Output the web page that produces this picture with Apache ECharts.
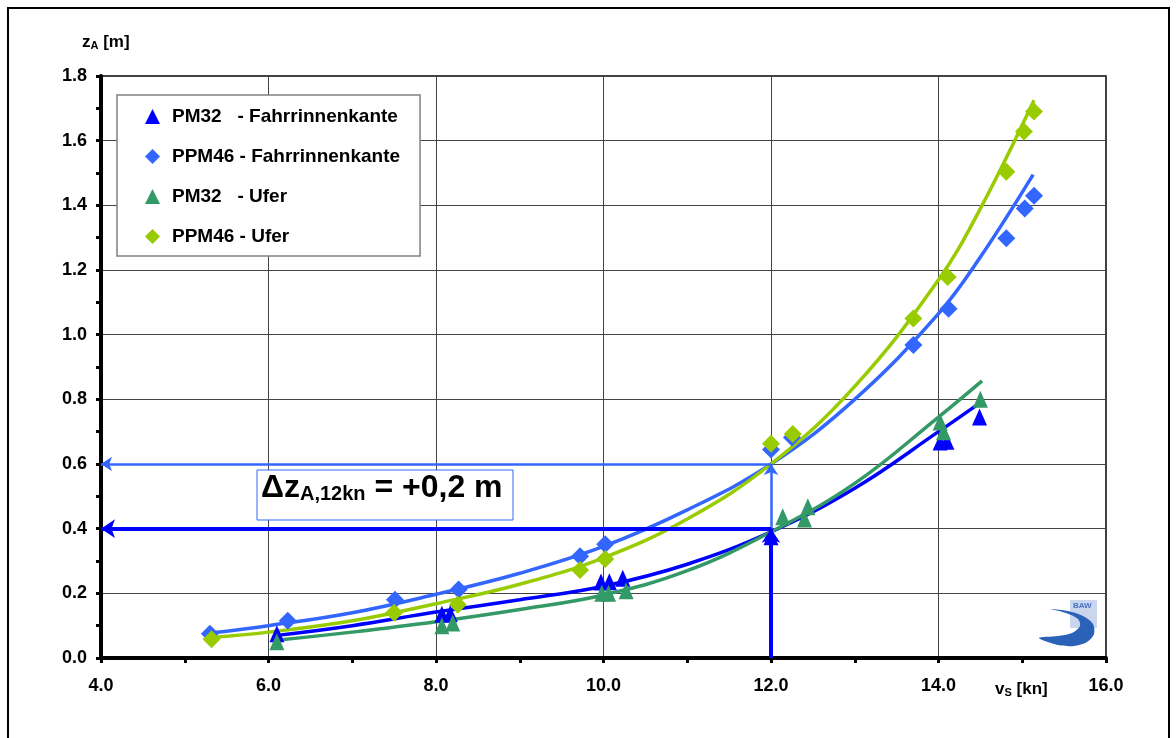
<!DOCTYPE html>
<html>
<head>
<meta charset="utf-8">
<script src="https://cdn.jsdelivr.net/npm/echarts@6/dist/echarts.min.js"></script>
<style>
  html, body { margin: 0; padding: 0; background: #fff; }
  #chart { width: 1176px; height: 738px; }
</style>
</head>
<body>
<div id="chart"></div>
<script>
// Messpunkte [v_S in kn, z_A in m]
const pm32Rinne = [[6.1, 0.075], [8.07, 0.135], [8.17, 0.137], [9.97, 0.235], [10.07, 0.236], [10.23, 0.247], [12.0, 0.375], [14.02, 0.668], [14.1, 0.67], [14.49, 0.745]]
const ppm46Rinne = [[5.3, 0.075], [6.23, 0.115], [7.51, 0.18], [8.27, 0.212], [9.72, 0.315], [10.02, 0.352], [12.0, 0.645], [12.25, 0.682], [13.7, 0.968], [14.12, 1.08], [14.81, 1.298], [15.03, 1.39], [15.14, 1.43]]
const pm32Ufer = [[6.1, 0.05], [8.07, 0.1], [8.2, 0.108], [9.98, 0.2], [10.06, 0.2], [10.27, 0.208], [12.14, 0.437], [12.4, 0.43], [12.44, 0.468], [14.02, 0.73], [14.06, 0.70], [14.5, 0.80]]
const ppm46Ufer = [[5.32, 0.058], [7.5, 0.14], [8.26, 0.165], [9.72, 0.272], [10.02, 0.306], [12.0, 0.663], [12.26, 0.693], [13.7, 1.05], [14.11, 1.178], [14.81, 1.504], [15.02, 1.628], [15.14, 1.69]]

const fitPm32Rinne = [[6.1, 0.07], [7, 0.1], [8, 0.142], [9, 0.18], [10, 0.222], [11, 0.29], [12, 0.39], [13, 0.525], [14, 0.70], [14.5, 0.79]]
const fitPpm46Rinne = [[5.3, 0.077], [6, 0.1], [7, 0.14], [8, 0.197], [9, 0.262], [10, 0.345], [11, 0.458], [12, 0.6], [13, 0.8], [14, 1.065], [14.5, 1.24], [15.13, 1.495]]
const fitPm32Ufer = [[6.1, 0.055], [7, 0.08], [8, 0.112], [9, 0.15], [10, 0.195], [11, 0.27], [12, 0.39], [13, 0.54], [14, 0.745], [14.52, 0.857]]
const fitPpm46Ufer = [[5.3, 0.063], [6, 0.08], [7, 0.115], [8, 0.168], [9, 0.228], [10, 0.31], [11, 0.43], [12, 0.6], [13, 0.84], [14, 1.17], [14.5, 1.39], [15.14, 1.725]]

// Ablesepfeile bei 12 kn
const arrowLightLeft = [[12, 0.6], [4, 0.6]]
const arrowLightUp = [[12, 0.4], [12, 0.6]]
const arrowDarkLeft = [[12, 0.4], [4, 0.4]]
const arrowDarkUp = [[12, 0.0], [12, 0.4]]

const legendNames = ['PM32   - Fahrrinnenkante', 'PPM46 - Fahrrinnenkante', 'PM32   - Ufer', 'PPM46 - Ufer']
const annotation = ['\u0394z', 'A,12kn', ' = +0,2 m']

const C_DARK = '#0000ff'
const C_LIGHT = '#3366ff'
const C_GREEN = '#339966'
const C_YELLOW = '#99cc00'
const FONT = 'Liberation Sans, Arial, sans-serif'

const chart = echarts.init(document.getElementById('chart'))

function fitLine(data, color) {
  return {
    type: 'line',
    data: data,
    smooth: 0.4,
    showSymbol: false,
    symbol: 'none',
    silent: true,
    lineStyle: { color: color, width: 3.5 },
    z: 2
  }
}

function arrow(data, color, width, size) {
  return {
    type: 'lines',
    coordinateSystem: 'cartesian2d',
    symbol: ['none', 'arrow'],
    symbolSize: size,
    silent: true,
    lineStyle: { color: color, width: width, opacity: 1 },
    data: [{ coords: data }],
    z: 4
  }
}

function points(name, data, color, symbol, size) {
  return {
    name: name,
    type: 'scatter',
    data: data,
    symbol: symbol,
    symbolSize: size,
    itemStyle: { color: color, opacity: 1 },
    z: 3
  }
}

const option = {
  animation: false,
  textStyle: { fontFamily: FONT },
  grid: {
    left: 101, right: 70, top: 76, bottom: 80,
    show: true, borderColor: '#000', borderWidth: 1.5
  },
  legend: {
    data: legendNames,
    orient: 'vertical',
    left: 117, top: 95,
    padding: [12, 20, 10, 28],
    itemWidth: 15, itemHeight: 15, itemGap: 21,
    backgroundColor: '#fff',
    borderColor: '#808080',
    borderWidth: 1.5,
    borderRadius: 0,
    textStyle: { fontFamily: FONT, fontWeight: 'bold', fontSize: 19, color: '#000', padding: [0, 0, 0, 7] },
    z: 10
  },
  xAxis: {
    type: 'value',
    min: 4, max: 16, interval: 2,
    axisLine: { show: true, onZero: false, lineStyle: { color: '#000', width: 4 } },
    axisTick: { show: true, length: 5, lineStyle: { color: '#000', width: 3 } },
    minorTick: { show: true, splitNumber: 2, length: 5, lineStyle: { color: '#000', width: 3 } },
    splitLine: { show: true, lineStyle: { color: '#444', width: 1 } },
    axisLabel: {
      color: '#000', fontWeight: 'bold', fontSize: 18, margin: 19, fontFamily: FONT,
      formatter: v => v.toFixed(1)
    }
  },
  yAxis: {
    type: 'value',
    min: 0, max: 1.8, interval: 0.2,
    axisLine: { show: true, onZero: false, lineStyle: { color: '#000', width: 4 } },
    axisTick: { show: true, length: 5, lineStyle: { color: '#000', width: 3 } },
    minorTick: { show: true, splitNumber: 2, length: 5, lineStyle: { color: '#000', width: 3 } },
    splitLine: { show: true, lineStyle: { color: '#444', width: 1 } },
    axisLabel: {
      color: '#000', fontWeight: 'bold', fontSize: 18, margin: 14, fontFamily: FONT,
      formatter: v => v.toFixed(1)
    }
  },
  series: [
    fitLine(fitPpm46Rinne, C_LIGHT),
    fitLine(fitPpm46Ufer, C_YELLOW),
    fitLine(fitPm32Rinne, C_DARK),
    fitLine(fitPm32Ufer, C_GREEN),
    arrow(arrowLightLeft, C_LIGHT, 2.5, 11),
    arrow(arrowLightUp, C_LIGHT, 2.5, 11),
    arrow(arrowDarkLeft, C_DARK, 4, 14),
    arrow(arrowDarkUp, C_DARK, 4, 14),
    points(legendNames[1], ppm46Rinne, C_LIGHT, 'diamond', 18),
    points(legendNames[3], ppm46Ufer, C_YELLOW, 'diamond', 18),
    points(legendNames[0], pm32Rinne, C_DARK, 'triangle', [15, 17]),
    points(legendNames[2], pm32Ufer, C_GREEN, 'triangle', [15, 17])
  ],
  graphic: [
    // Außenrahmen
    {
      type: 'rect', silent: true, z: 0,
      shape: { x: 8, y: 8, width: 1161, height: 800 },
      style: { fill: 'none', stroke: '#000', lineWidth: 2 }
    },
    // Achsentitel
    {
      type: 'text', left: 82, top: 34, z: 5,
      style: {
        text: 'z{s|A} [m]',
        rich: {
          s: { fontFamily: FONT, fontWeight: 'bold', fontSize: 11, verticalAlign: 'bottom', lineHeight: 13 }
        },
        fontFamily: FONT, fontWeight: 'bold', fontSize: 17, fill: '#000'
      }
    },
    {
      type: 'text', left: 995, top: 681, z: 5,
      style: {
        text: 'v{s|S} [kn]',
        rich: {
          s: { fontFamily: FONT, fontWeight: 'bold', fontSize: 11, verticalAlign: 'bottom', lineHeight: 13 }
        },
        fontFamily: FONT, fontWeight: 'bold', fontSize: 17, fill: '#000'
      }
    },
    // Annotation
    {
      type: 'rect', silent: true, z: 5,
      shape: { x: 257, y: 470, width: 256, height: 50 },
      style: { fill: '#fff', stroke: C_LIGHT, lineWidth: 1 }
    },
    {
      type: 'text', left: 261, top: 472, z: 6,
      style: {
        text: '{a|' + annotation[0] + '}{s|' + annotation[1] + '}{a|' + annotation[2] + '}',
        rich: {
          a: { fontFamily: FONT, fontWeight: 'bold', fontSize: 32, color: C_LIGHT, verticalAlign: 'bottom', lineHeight: 37 },
          s: { fontFamily: FONT, fontWeight: 'bold', fontSize: 20, color: C_LIGHT, verticalAlign: 'bottom', lineHeight: 20 }
        }
      }
    },
    // BAW Logo
    {
      type: 'rect', silent: true, z: 5,
      shape: { x: 1070, y: 600, width: 27, height: 28 },
      style: { fill: '#c9d6ee' }
    },
    {
      type: 'text', left: 1073, top: 602, z: 6,
      style: { text: 'BAW', fontFamily: FONT, fontWeight: 'bold', fontSize: 8, fill: '#4a74c4' }
    },
    {
      type: 'polygon', silent: true, z: 6,
      shape: {
        points: [[1051, 609], [1068, 611], [1083, 616], [1093, 624], [1094, 634], [1087, 642], [1074, 646],
          [1058, 645], [1039, 638], [1058, 636], [1072, 633], [1080, 626], [1078, 619], [1066, 613]],
        smooth: 0.3
      },
      style: { fill: '#2a62b8' }
    }
  ]
}

chart.setOption(option)
</script>
</body>
</html>
